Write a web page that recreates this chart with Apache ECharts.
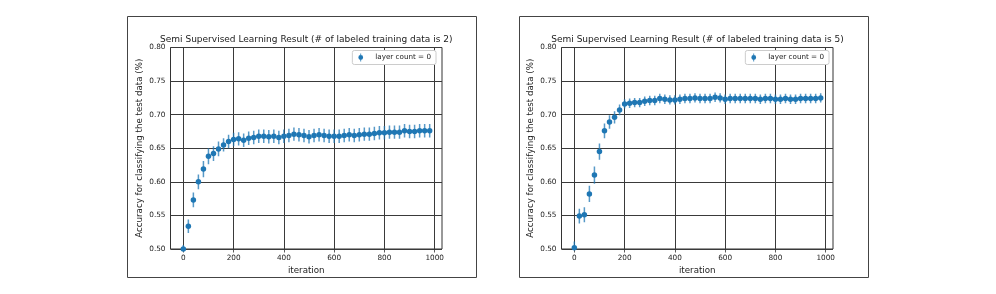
<!DOCTYPE html>
<html><head><meta charset="utf-8">
<script src="https://cdn.jsdelivr.net/npm/echarts@6/dist/echarts.min.js"></script>
<style>html,body{margin:0;padding:0;background:#fff}#c{width:996px;height:294px}</style>
</head><body><div id="c"></div>
<script>
const iterations = [0,20,40,60,80,100,120,140,160,180,200,220,240,260,280,300,320,340,360,380,400,420,440,460,480,500,520,540,560,580,600,620,640,660,680,700,720,740,760,780,800,820,840,860,880,900,920,940,960,980];
const accLabeled2 = [0.500,0.534,0.573,0.600,0.619,0.638,0.642,0.649,0.655,0.660,0.663,0.664,0.662,0.665,0.666,0.668,0.668,0.667,0.668,0.666,0.668,0.669,0.671,0.670,0.669,0.667,0.669,0.670,0.669,0.668,0.668,0.668,0.669,0.670,0.669,0.670,0.671,0.671,0.672,0.673,0.673,0.674,0.674,0.674,0.676,0.675,0.675,0.676,0.676,0.676];
const errLabeled2 = [0.006,0.010,0.011,0.011,0.012,0.012,0.011,0.011,0.010,0.010,0.010,0.010,0.010,0.010,0.010,0.010,0.010,0.010,0.010,0.010,0.010,0.010,0.010,0.010,0.010,0.010,0.010,0.010,0.010,0.010,0.010,0.010,0.010,0.010,0.010,0.010,0.010,0.010,0.010,0.010,0.010,0.010,0.010,0.010,0.010,0.010,0.010,0.010,0.010,0.010];
const accLabeled5 = [0.502,0.549,0.551,0.582,0.610,0.645,0.676,0.689,0.696,0.707,0.716,0.717,0.718,0.718,0.720,0.721,0.721,0.724,0.723,0.722,0.722,0.723,0.724,0.724,0.725,0.724,0.724,0.724,0.726,0.725,0.723,0.724,0.724,0.724,0.724,0.724,0.724,0.723,0.724,0.724,0.723,0.723,0.724,0.723,0.723,0.724,0.724,0.724,0.724,0.725];
const errLabeled5 = [0.009,0.011,0.011,0.012,0.013,0.012,0.011,0.010,0.009,0.008,0.007,0.007,0.007,0.007,0.007,0.007,0.007,0.007,0.007,0.007,0.007,0.007,0.007,0.007,0.007,0.007,0.007,0.007,0.007,0.007,0.007,0.007,0.007,0.007,0.007,0.007,0.007,0.007,0.007,0.007,0.007,0.007,0.007,0.007,0.007,0.007,0.007,0.007,0.007,0.007];
const xTicks = [0,200,400,600,800,1000];
const titles = ['Semi Supervised Learning Result (# of labeled training data is 2)','Semi Supervised Learning Result (# of labeled training data is 5)'];
const seriesName = 'layer count = 0';
const xName = 'iteration';
const yName = 'Accuracy for classifying the test data (%)';

const FONT = 'DejaVu Sans';
const BLUE = '#1f77b4';
const chart = echarts.init(document.getElementById('c'), null, {renderer:'canvas'});

const grids = [
  {left:170.5, top:47.5, width:271.5, height:201.5},
  {left:561.5, top:47.5, width:271.5, height:201.5}
];

function xAxisCfg(gi){
  return {
    type:'value', gridIndex:gi, min:-51, max:1029,
    name:xName, nameLocation:'middle', nameGap:14,
    nameTextStyle:{fontFamily:FONT, fontSize:8.7, color:'#1a1a1a', verticalAlign:'top'},
    axisLine:{show:false},
    axisTick:{show:true, inside:false, length:3.5, lineStyle:{color:'#333', width:0.8}, customValues:xTicks},
    axisLabel:{fontFamily:FONT, fontSize:7.3, color:'#222', margin:5.5, customValues:xTicks, formatter: v => String(v)},
    splitLine:{show:true, lineStyle:{color:'#3a3a3a', width:1}}
  };
}
function yAxisCfg(gi){
  return {
    type:'value', gridIndex:gi, min:0.5, max:0.8, interval:0.05,
    name:yName, nameLocation:'middle', nameGap:26, nameRotate:90,
    nameTextStyle:{fontFamily:FONT, fontSize:8.7, color:'#1a1a1a'},
    axisLine:{show:false},
    axisTick:{show:true, inside:false, length:3.5, lineStyle:{color:'#333', width:0.8}},
    axisLabel:{fontFamily:FONT, fontSize:7.3, color:'#222', margin:5, formatter: v => v.toFixed(2)},
    splitLine:{show:true, lineStyle:{color:'#3a3a3a', width:1}}
  };
}

function errRender(params, api){
  const x = api.value(0), lo = api.value(1), hi = api.value(2);
  const p1 = api.coord([x, lo]), p2 = api.coord([x, hi]);
  return {type:'line', shape:{x1:p1[0], y1:p1[1], x2:p2[0], y2:p2[1]},
          style:{stroke:BLUE, lineWidth:1.5, opacity:0.75}};
}

function errData(acc, err){ return iterations.map((x,i)=>[x, acc[i]-err[i], acc[i]+err[i]]); }
function ptData(acc){ return iterations.map((x,i)=>[x, acc[i]]); }

const iconPath = 'path://M4.5,0h1v10h-1z M5,2a3,3 0 1,1 -0.001,0z';
function legendCfg(right){
  return {
    right:right, top:50.5, orient:'vertical',
    data:[{name:seriesName, icon:iconPath}],
    itemWidth:5, itemHeight:8,
    backgroundColor:'#fff', borderColor:'#ccc', borderWidth:1, borderRadius:2,
    padding:[3,5,3,6],
    selectedMode:false,
    textStyle:{fontFamily:FONT, fontSize:7.2, color:'#1a1a1a', padding:[0,0,0,7]}
  };
}

chart.setOption({
  animation:false,
  backgroundColor:'#fff',
  grid: grids.map(g => Object.assign({show:true, borderColor:'#333', borderWidth:1, backgroundColor:'transparent'}, g)),
  xAxis:[xAxisCfg(0), xAxisCfg(1)],
  yAxis:[yAxisCfg(0), yAxisCfg(1)],
  legend:[legendCfg(560), legendCfg(167)],
  graphic:[
    {type:'rect', shape:{x:127.5, y:16.5, width:349, height:261}, style:{fill:'none', stroke:'#444', lineWidth:1}, silent:true},
    {type:'rect', shape:{x:519.5, y:16.5, width:349, height:261}, style:{fill:'none', stroke:'#444', lineWidth:1}, silent:true},
    {type:'text', x:306.3, y:39.5, style:{text:titles[0], font:'9px "DejaVu Sans"', fill:'#1a1a1a', textAlign:'center', textVerticalAlign:'middle'}},
    {type:'text', x:697.5, y:39.5, style:{text:titles[1], font:'9px "DejaVu Sans"', fill:'#1a1a1a', textAlign:'center', textVerticalAlign:'middle'}}
  ],
  series:[
    {name:'err2', type:'custom', xAxisIndex:0, yAxisIndex:0, renderItem:errRender, clip:true,
     encode:{x:0, y:[1,2]}, data:errData(accLabeled2, errLabeled2), z:2},
    {name:seriesName, type:'scatter', xAxisIndex:0, yAxisIndex:0, symbol:'circle', symbolSize:5.5,
     itemStyle:{color:BLUE, opacity:1}, data:ptData(accLabeled2), z:3},
    {name:'err5', type:'custom', xAxisIndex:1, yAxisIndex:1, renderItem:errRender, clip:true,
     encode:{x:0, y:[1,2]}, data:errData(accLabeled5, errLabeled5), z:2},
    {name:seriesName, type:'scatter', xAxisIndex:1, yAxisIndex:1, symbol:'circle', symbolSize:5.5,
     itemStyle:{color:BLUE, opacity:1}, data:ptData(accLabeled5), z:3}
  ]
});
</script>
</body></html>
